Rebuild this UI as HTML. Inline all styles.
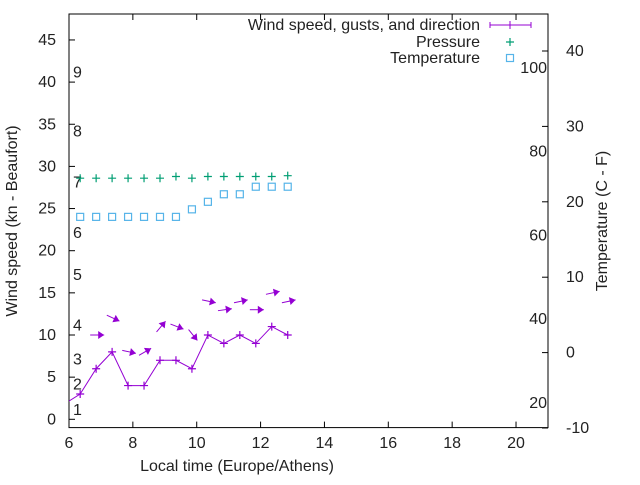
<!DOCTYPE html>
<html><head><meta charset="utf-8"><style>
body{margin:0;background:#fff}
svg text{font-family:"Liberation Sans",sans-serif;font-size:16px;fill:#222}
</style></head><body>
<svg width="640" height="480" viewBox="0 0 640 480">
<defs><clipPath id="pa"><rect x="69" y="14" width="479" height="413"/></clipPath></defs>
<g id="axes"></g>
<g id="plot" clip-path="url(#pa)"></g>
<g id="leg"></g>
<text x="17" y="221" transform="rotate(-90 17 221)" text-anchor="middle">Wind speed (kn - Beaufort)</text>
<text x="607" y="221" transform="rotate(-90 607 221)" text-anchor="middle">Temperature (C - F)</text>
<text x="237" y="471" text-anchor="middle">Local time (Europe/Athens)</text>
</svg>
<script>
const times=[6.35,6.85,7.35,7.85,8.35,8.85,9.35,9.85,10.35,10.85,11.35,11.85,12.35,12.85];
const wind=[3,6,8,4,4,7,7,6,10,9,10,9,11,10];
const gust=[10,12,8,8,11,11,10,14,13,14,13,15,14];
const dirDeg=[0,-25,-12,30,50,-21,-51,-12,8,12,0,12,12];
const pressure=[28.6,28.6,28.6,28.6,28.6,28.6,28.8,28.6,28.8,28.8,28.8,28.8,28.8,28.9];
const tempC=[18,18,18,18,18,18,18,19,20,21,21,22,22,22];
const xTicks=[6,8,10,12,14,16,18,20];
const yTicks=[0,5,10,15,20,25,30,35,40,45];
const y2Ticks=[-10,0,10,20,30,40];
const fTicks=[20,40,60,80,100];
const bft=[1,4,7,11,17,22,28,34,41];
const X=t=>69+(t-6)*31.93;
const Y=v=>419.3-v*8.43;
const Y2=c=>352.6-c*7.54;
const NS="http://www.w3.org/2000/svg";
function mk(p,tag,a,txt){const e=document.createElementNS(NS,tag);for(const k in a)e.setAttribute(k,a[k]);if(txt!=null)e.textContent=txt;p.appendChild(e);return e;}
const ax=document.getElementById('axes'),pl=document.getElementById('plot'),lg=document.getElementById('leg');
let e=mk(ax,'rect',{x:69,y:14,width:479,height:413.6,fill:'none',stroke:'#000','stroke-width':1});


xTicks.forEach(t=>{const x=X(t);
mk(ax,'line',{x1:x,y1:427.6,x2:x,y2:421.6,stroke:'#000'});
mk(ax,'line',{x1:x,y1:14,x2:x,y2:20,stroke:'#000'});
e=mk(ax,'text',{x:x,y:448,'text-anchor':'middle'},t);

});
yTicks.forEach(v=>{const y=Y(v);
mk(ax,'line',{x1:69,y1:y,x2:75,y2:y,stroke:'#000'});
e=mk(ax,'text',{x:56,y:y+5,'text-anchor':'end'},v);

});
y2Ticks.forEach(c=>{const y=Y2(c);
mk(ax,'line',{x1:548,y1:y,x2:542,y2:y,stroke:'#000'});
e=mk(ax,'text',{x:566,y:y+5},c);

});
fTicks.forEach(f=>{const y=Y2((f-32)*5/9);
e=mk(ax,'text',{x:547,y:y+5,'text-anchor':'end'},f);

});
bft.forEach((k,i)=>{
e=mk(ax,'text',{x:73,y:Y(k)+4},i+1);

});
let pts=[[X(times[0]-0.5),Y(1.8)]].concat(times.map((t,i)=>[X(t),Y(wind[i])]));
e=mk(pl,'polyline',{points:pts.map(p=>p.join(',')).join(' '),fill:'none',stroke:'#9400d3','stroke-width':1});


function cross(g,x,y,c){mk(g,'path',{d:`M${x-4},${y}H${x+4}M${x},${y-4}V${y+4}`,stroke:c,'stroke-width':1.2});}
times.forEach((t,i)=>{cross(pl,X(t),Y(wind[i]),'#9400d3');
cross(pl,X(t),Y(pressure[i]),'#009e73');
e=mk(pl,'rect',{x:X(t)-3.5,y:Y2(tempC[i])-3.5,width:7,height:7,fill:'none',stroke:'#56b4e9','stroke-width':1.2});

});
gust.forEach((g,i)=>{const cx=X(times[i])+17,cy=Y(g),a=dirDeg[i]*Math.PI/180,L=7;
const dx=Math.cos(a),dy=-Math.sin(a);
const x1=cx-dx*L,y1=cy-dy*L,x2=cx+dx*L,y2=cy+dy*L;
const gr=mk(pl,'g',{});


mk(gr,'line',{x1:x1,y1:y1,x2:x2,y2:y2,stroke:'#9400d3','stroke-width':1});
const px=-dy,py=dx,h=6,w=4;
mk(gr,'polygon',{points:`${x2},${y2} ${x2-dx*h+px*w},${y2-dy*h+py*w} ${x2-dx*h-px*w},${y2-dy*h-py*w}`,fill:'#9400d3'});});
[['Wind speed, gusts, and direction',25],['Pressure',42],['Temperature',58]].forEach((r,i)=>{
e=mk(lg,'text',{x:480,y:r[1]+5,'text-anchor':'end'},r[0]);

});
mk(lg,'path',{d:'M490,25H531M490,22V28M531,22V28M510,21V29',stroke:'#9400d3','stroke-width':1});
cross(lg,510,42,'#009e73');
mk(lg,'rect',{x:506.5,y:54.5,width:7,height:7,fill:'none',stroke:'#56b4e9','stroke-width':1.2});
</script>
</body></html>
